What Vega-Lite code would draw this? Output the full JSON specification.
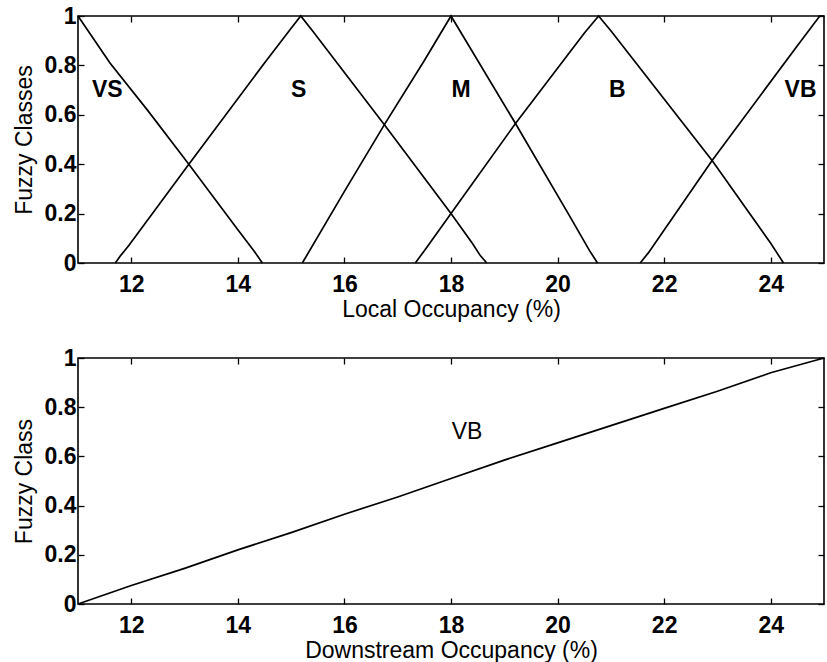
{
  "$schema": "https://vega.github.io/schema/vega-lite/v6.json",
  "padding": {"left": 12, "top": 4, "right": 0, "bottom": 0},
  "background": "white",
  "spacing": 24,
  "datasets": {
    "top": [
      {"cls": "VS", "x": 11, "y": 1},
      {"cls": "VS", "x": 11.6, "y": 0.81},
      {"cls": "VS", "x": 12.3, "y": 0.62},
      {"cls": "VS", "x": 13.08, "y": 0.4},
      {"cls": "VS", "x": 14.0, "y": 0.135},
      {"cls": "VS", "x": 14.3, "y": 0.05},
      {"cls": "VS", "x": 14.46, "y": 0},
      {"cls": "S", "x": 11.7, "y": 0},
      {"cls": "S", "x": 11.8, "y": 0.03},
      {"cls": "S", "x": 11.95, "y": 0.07},
      {"cls": "S", "x": 13.08, "y": 0.4},
      {"cls": "S", "x": 14.5, "y": 0.81},
      {"cls": "S", "x": 15.0, "y": 0.95},
      {"cls": "S", "x": 15.18, "y": 1},
      {"cls": "S", "x": 15.4, "y": 0.94},
      {"cls": "S", "x": 16.75, "y": 0.56},
      {"cls": "S", "x": 18.0, "y": 0.2},
      {"cls": "S", "x": 18.4, "y": 0.08},
      {"cls": "S", "x": 18.55, "y": 0.03},
      {"cls": "S", "x": 18.67, "y": 0},
      {"cls": "M", "x": 15.21, "y": 0},
      {"cls": "M", "x": 16.0, "y": 0.29},
      {"cls": "M", "x": 16.75, "y": 0.56},
      {"cls": "M", "x": 17.5, "y": 0.82},
      {"cls": "M", "x": 18.0, "y": 1},
      {"cls": "M", "x": 19.21, "y": 0.565},
      {"cls": "M", "x": 20.2, "y": 0.2},
      {"cls": "M", "x": 20.6, "y": 0.05},
      {"cls": "M", "x": 20.75, "y": 0},
      {"cls": "B", "x": 17.33, "y": 0},
      {"cls": "B", "x": 17.5, "y": 0.05},
      {"cls": "B", "x": 18.0, "y": 0.2},
      {"cls": "B", "x": 19.21, "y": 0.565},
      {"cls": "B", "x": 20.5, "y": 0.93},
      {"cls": "B", "x": 20.77, "y": 1},
      {"cls": "B", "x": 21.0, "y": 0.94},
      {"cls": "B", "x": 22.9, "y": 0.415},
      {"cls": "B", "x": 24.0, "y": 0.08},
      {"cls": "B", "x": 24.24, "y": 0},
      {"cls": "VB", "x": 21.55, "y": 0},
      {"cls": "VB", "x": 21.7, "y": 0.04},
      {"cls": "VB", "x": 22.9, "y": 0.415},
      {"cls": "VB", "x": 24.5, "y": 0.88},
      {"cls": "VB", "x": 24.92, "y": 1},
      {"cls": "VB", "x": 25, "y": 1}
    ],
    "toplab": [
      {"label": "VS", "x": 11.55, "y": 0.7},
      {"label": "S", "x": 15.14, "y": 0.7},
      {"label": "M", "x": 18.19, "y": 0.7},
      {"label": "B", "x": 21.12, "y": 0.7},
      {"label": "VB", "x": 24.56, "y": 0.7}
    ],
    "bottom": [
      {"cls": "VB", "x": 11, "y": 0},
      {"cls": "VB", "x": 12, "y": 0.075},
      {"cls": "VB", "x": 13, "y": 0.145},
      {"cls": "VB", "x": 14, "y": 0.22},
      {"cls": "VB", "x": 15, "y": 0.29},
      {"cls": "VB", "x": 16, "y": 0.365},
      {"cls": "VB", "x": 17, "y": 0.435},
      {"cls": "VB", "x": 18, "y": 0.51},
      {"cls": "VB", "x": 19, "y": 0.585},
      {"cls": "VB", "x": 20, "y": 0.655},
      {"cls": "VB", "x": 21, "y": 0.725},
      {"cls": "VB", "x": 22, "y": 0.795},
      {"cls": "VB", "x": 23, "y": 0.865},
      {"cls": "VB", "x": 24, "y": 0.94},
      {"cls": "VB", "x": 25, "y": 1}
    ],
    "botlab": [
      {"label": "VB", "x": 18.3, "y": 0.7}
    ]
  },
  "vconcat": [
    {
      "width": 746,
      "height": 247,
      "layer": [
        {
          "data": {"name": "top"},
          "mark": {"type": "line", "color": "black", "strokeWidth": 1.7},
          "encoding": {
            "x": {"field": "x", "type": "quantitative", "scale": {"domain": [11, 25], "nice": false, "zero": false},
              "axis": {"orient": "bottom", "values": [12, 14, 16, 18, 20, 22, 24], "format": "~g", "title": "Local Occupancy (%)", "labelPadding": 16, "titlePadding": 2}},
            "y": {"field": "y", "type": "quantitative", "scale": {"domain": [0, 1], "nice": false},
              "axis": {"orient": "left", "values": [0, 0.2, 0.4, 0.6, 0.8, 1], "format": "~g", "title": "Fuzzy Classes", "labelPadding": 8, "titlePadding": 8}},
            "detail": {"field": "cls"}
          }
        },
        {
          "data": {"name": "toplab"},
          "mark": {"type": "text", "font": "Liberation Sans", "fontSize": 23, "fontWeight": "bold", "color": "black"},
          "encoding": {
            "x": {"field": "x", "type": "quantitative", "scale": {"domain": [11, 25], "nice": false, "zero": false},
              "axis": {"orient": "top", "values": [12, 14, 16, 18, 20, 22, 24], "labels": false, "title": null}},
            "y": {"field": "y", "type": "quantitative", "scale": {"domain": [0, 1], "nice": false},
              "axis": {"orient": "right", "values": [0, 0.2, 0.4, 0.6, 0.8, 1], "labels": false, "title": null}},
            "text": {"field": "label"}
          }
        }
      ]
    },
    {
      "width": 746,
      "height": 246,
      "layer": [
        {
          "data": {"name": "bottom"},
          "mark": {"type": "line", "color": "black", "strokeWidth": 1.7},
          "encoding": {
            "x": {"field": "x", "type": "quantitative", "scale": {"domain": [11, 25], "nice": false, "zero": false},
              "axis": {"orient": "bottom", "values": [12, 14, 16, 18, 20, 22, 24], "format": "~g", "title": "Downstream Occupancy (%)", "labelPadding": 16, "titlePadding": 2}},
            "y": {"field": "y", "type": "quantitative", "scale": {"domain": [0, 1], "nice": false},
              "axis": {"orient": "left", "values": [0, 0.2, 0.4, 0.6, 0.8, 1], "format": "~g", "title": "Fuzzy Class", "labelPadding": 8, "titlePadding": 8}},
            "detail": {"field": "cls"}
          }
        },
        {
          "data": {"name": "botlab"},
          "mark": {"type": "text", "font": "Liberation Sans", "fontSize": 23, "fontWeight": "normal", "color": "black"},
          "encoding": {
            "x": {"field": "x", "type": "quantitative", "scale": {"domain": [11, 25], "nice": false, "zero": false},
              "axis": {"orient": "top", "values": [12, 14, 16, 18, 20, 22, 24], "labels": false, "title": null}},
            "y": {"field": "y", "type": "quantitative", "scale": {"domain": [0, 1], "nice": false},
              "axis": {"orient": "right", "values": [0, 0.2, 0.4, 0.6, 0.8, 1], "labels": false, "title": null}},
            "text": {"field": "label"}
          }
        }
      ]
    }
  ],
  "config": {
    "view": {"stroke": "black", "strokeWidth": 1.6},
    "axis": {
      "labelFont": "Liberation Sans", "labelFontSize": 23, "labelFontWeight": "bold", "labelColor": "black",
      "titleFont": "Liberation Sans", "titleFontSize": 23, "titleFontWeight": "normal", "titleColor": "black",
      "tickColor": "black", "tickSize": -6, "tickWidth": 1.3, "domain": false, "grid": false
    }
  }
}
